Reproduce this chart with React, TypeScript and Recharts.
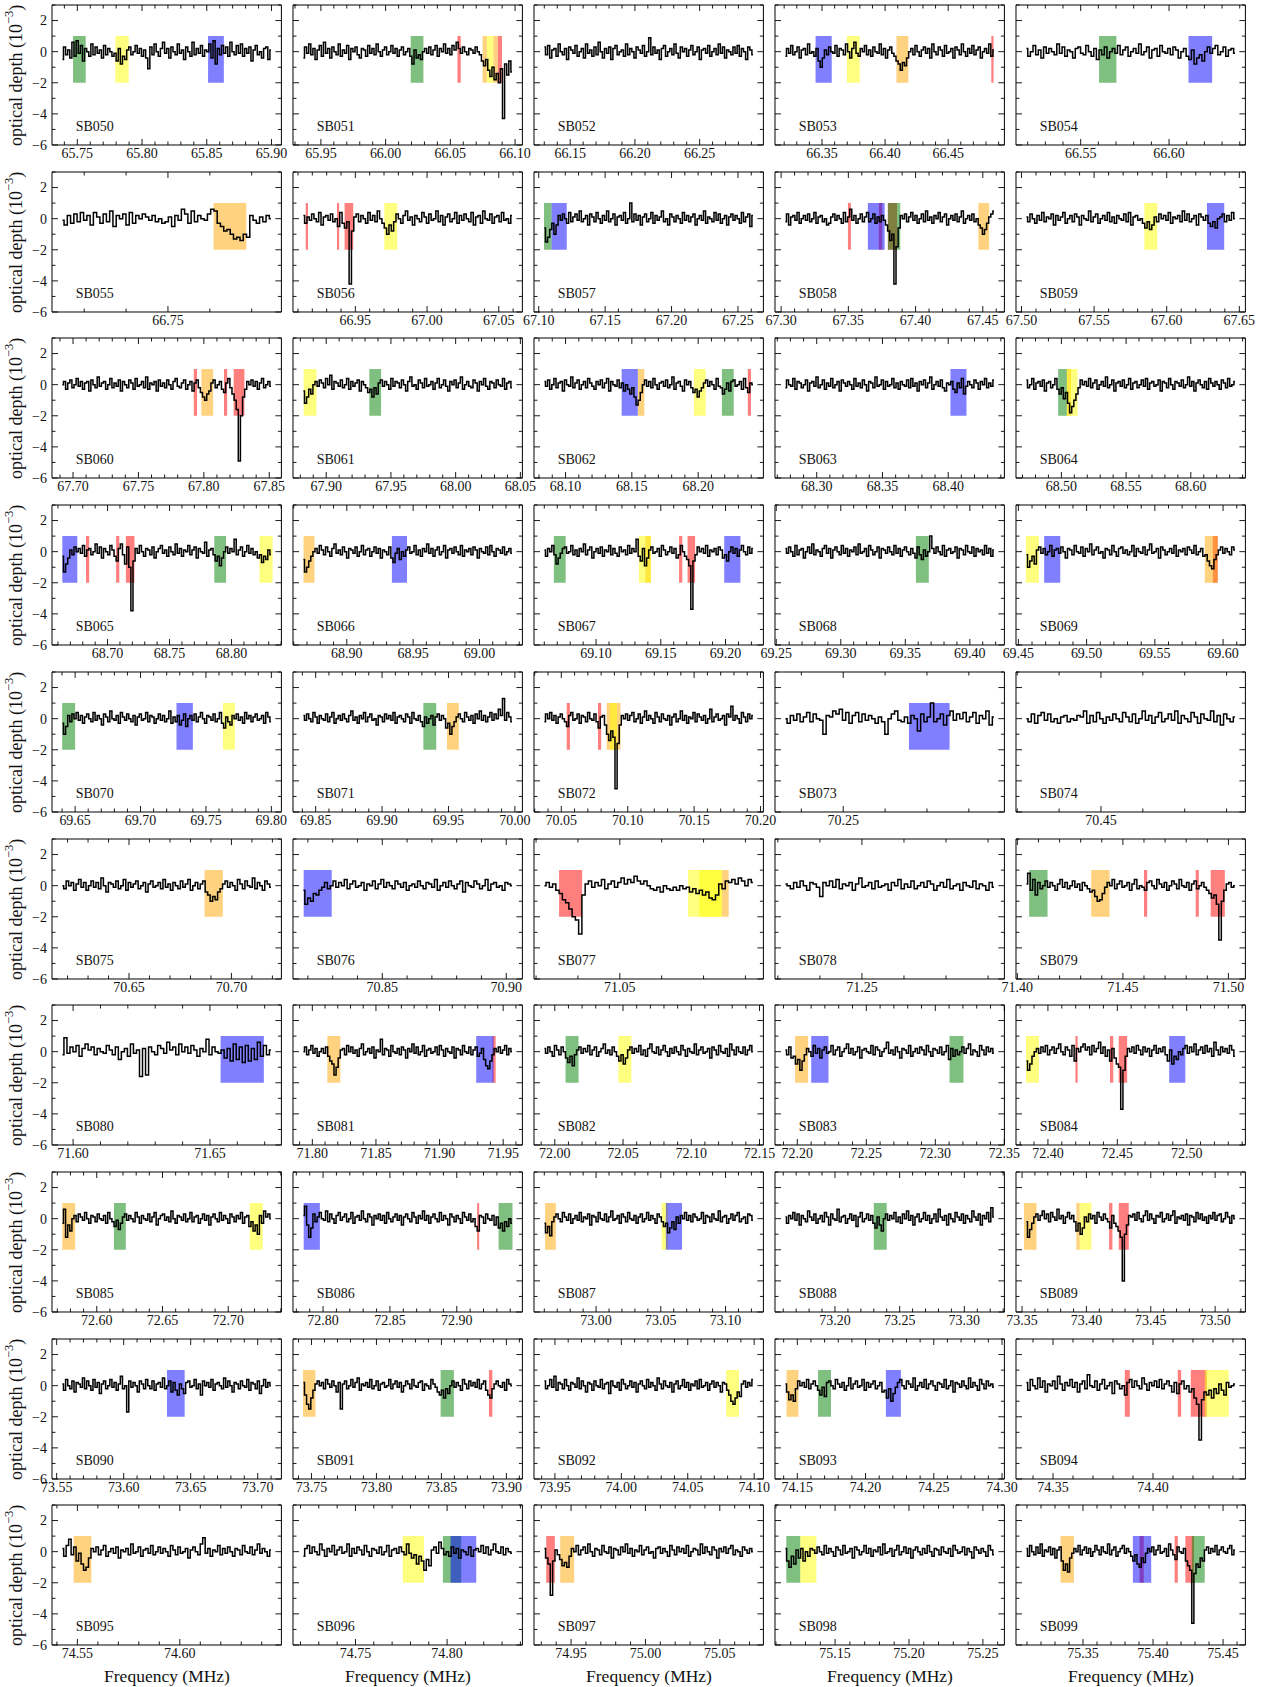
import React from 'react';
import { LineChart, Line, XAxis, YAxis, ReferenceArea } from 'recharts';

// spectra, values in units of 0.1 x 10^-3 optical depth, one value per (binned) channel
const SB050 = [-5,3,-2,1,-4,6,-3,7,-1,4,-6,2,0,-3,5,-2,3,-1,1,-4,4,-2,2,0,-3,-1,-6,2,-8,-3,-5,1,3,-2,0,4,-1,2,-3,1,-4,-11,3,-2,5,0,-3,2,6,-1,2,-4,3,0,-2,5,-1,1,-5,3,0,-3,6,-2,2,-1,4,-3,1,0,5,-4,7,-8,2,-2,4,-1,3,-3,6,0,-2,4,-1,5,-3,2,-1,3,-6,1,4,-2,0,-4,2,3,-5,1];
const SB051 = [-4,3,-1,5,-2,2,-5,1,4,-3,6,-1,2,-4,3,0,-2,5,-3,1,-1,4,-5,2,0,3,-2,-4,2,1,-3,4,-1,2,-2,5,0,-3,1,3,-2,0,4,-1,2,-3,1,3,-2,0,2,-3,-8,1,-4,-2,-5,0,2,-1,3,-2,1,4,-3,2,0,5,-1,2,-2,4,1,6,2,-1,3,0,-2,2,1,-1,3,0,-2,-6,-9,-5,-12,-16,-10,-18,-14,-20,-11,-43,-8,-15,-6,-13];
const SB052 = [3,-2,4,-4,1,2,-3,5,0,-2,2,-5,3,1,-1,4,-3,0,2,-4,5,-1,1,-3,3,-2,6,0,-4,2,-1,3,-5,2,4,-2,0,1,-3,5,-2,2,0,-4,3,1,-1,4,-3,0,9,-2,3,-1,1,-5,2,4,-3,0,2,-2,5,-1,-4,3,0,2,-3,1,4,-2,0,3,-5,1,2,-1,4,-3,0,2,-2,5,-1,3,-4,1,0,-2,3,-1,4,-3,2,0,-5,3,1,-2];
const SB053 = [-3,2,-1,4,-2,0,3,-4,1,2,-2,5,-1,0,-3,2,-6,-10,-4,1,-2,3,0,-1,4,-3,2,1,-2,5,0,-4,2,6,-1,-3,2,0,4,-2,1,-3,3,0,-1,5,-2,2,-4,1,3,-1,-3,-6,-8,-12,-7,-9,-4,0,2,-2,4,0,-3,1,3,-1,2,-4,5,0,-2,3,1,-3,4,-1,0,2,-4,3,1,-2,5,0,-3,2,-1,4,-2,1,3,-4,0,2,-1,5,-3,1];
const SB054 = [2,-3,0,4,-2,1,-4,3,-1,2,0,-2,5,-1,3,-3,1,0,-4,2,3,-1,-2,4,0,-3,2,-5,1,-2,3,-4,0,2,-1,4,-2,1,3,-3,0,2,-1,5,-2,0,3,-4,1,2,-3,4,0,-1,2,-2,3,1,-4,0,2,-3,-5,1,-8,-4,-2,-6,0,3,-1,2,4,-2,0,3,-3,1,2,-1];
const SB055 = [-1,-4,2,-3,3,-2,4,-1,2,-4,4,1,-3,3,-2,5,-5,2,0,3,-4,4,-3,2,0,3,1,-1,2,-2,0,-3,-2,1,-5,2,-1,6,3,-3,5,-2,2,0,-1,3,6,5,-3,-5,-8,-7,-10,-13,-12,-14,-10,-12,2,-1,-3,1,-2,2,0];
const SB056 = [2,-3,1,-1,3,0,-2,4,-4,1,2,-1,3,-2,0,-5,4,-3,-6,-2,-42,-8,1,3,-2,2,0,-3,4,-1,2,-2,5,0,-3,-6,-10,-4,-8,-2,3,0,-3,2,5,-1,1,-4,2,0,-2,4,1,-3,3,-1,0,5,-2,2,-4,1,3,-2,0,4,-3,2,-1,3,0,-2,4,-4,1,2,-3,5,0,-1,3,-3,1,2,-2,4,-1,0,-3,2];
const SB057 = [-6,-15,-12,-7,-3,-10,-4,2,-1,3,0,-3,4,-2,1,3,-1,5,-2,0,2,-4,3,1,-2,4,0,-3,2,-1,5,-2,0,3,-4,1,2,-1,4,-3,0,10,-2,3,-1,2,-4,1,3,-2,0,4,-3,2,-1,1,5,-2,0,-4,3,1,-2,2,0,-3,4,-1,2,-2,1,3,-4,0,2,-1,5,-3,1,0,-2,4,-1,3,-3,0,2,-4,1,3,-1,2,0,-3,4,-2,1,3,-5,2];
const SB058 = [-2,3,-4,1,2,-1,4,-3,0,2,-1,3,-2,0,4,-3,1,2,-2,0,-4,-3,1,3,-1,2,0,-3,4,-2,1,6,-1,2,-3,0,3,-2,1,4,-2,0,3,-3,1,-2,2,-1,-4,-8,-14,-10,-42,-18,-6,2,0,3,-2,1,4,-1,2,-3,0,3,-2,5,-1,1,-3,2,0,4,-2,1,3,-4,0,2,-1,3,-2,1,5,-3,0,2,-1,3,-2,0,-4,-6,-10,-7,-3,1,3,5];
const SB059 = [1,-2,3,0,-3,2,-1,4,-2,1,0,3,-4,2,-1,1,4,-3,0,2,-2,3,1,-4,2,0,-1,5,-2,1,3,-3,0,2,-1,4,-2,1,-3,2,0,-1,3,-2,4,-4,1,2,-1,0,-3,-6,-2,-7,-4,1,-2,3,0,2,-1,4,-3,1,0,2,-2,5,-1,3,-2,0,2,-4,3,1,-1,2,-3,-5,-2,-6,0,1,3,-2,2,-1,4,0];
const SB060 = [0,2,-3,1,3,-2,0,4,-1,2,-3,1,2,-4,3,0,-2,5,-1,1,2,-3,0,4,-2,1,-1,3,-4,2,0,-2,3,1,-3,4,-1,0,2,-2,5,-3,1,0,2,-4,3,-1,1,-2,3,0,-3,2,4,-1,-2,1,3,-3,0,2,-4,1,3,-2,-5,-8,-10,-6,-4,1,3,-2,0,2,-3,-5,1,4,-2,-6,-10,-16,-49,-20,-8,-3,2,0,3,-1,2,-3,1,4,-2,0,2,-1];
const SB061 = [-4,-12,-8,-3,-6,0,2,-1,3,1,-2,4,0,6,-3,2,1,-1,3,-2,0,4,-3,2,-1,1,3,-4,2,0,-2,-5,-3,-8,-2,-6,1,3,-1,2,0,-3,4,-1,2,1,-2,3,0,-4,2,5,-1,0,-3,3,1,-2,4,-1,0,2,-3,1,4,-2,0,3,-1,-4,2,0,3,-2,1,5,-3,0,2,-1,-2,3,1,-4,2,0,4,-1,-3,2,1,-2,3,0,-1,4,-3,1,2,-2];
const SB062 = [2,-1,3,-3,0,4,-2,1,2,-4,3,0,-1,5,-2,1,3,-3,0,2,-2,4,1,-1,-3,2,0,3,-2,1,4,-4,2,0,-1,3,-2,1,-4,0,-3,-6,-2,-8,-13,-10,-5,0,3,-1,2,-2,4,0,-3,1,2,-1,3,-2,0,5,-3,1,2,-1,-4,3,0,2,-2,-5,-3,-8,-4,-2,1,3,-1,2,0,-3,4,-1,-2,-6,-3,1,-4,2,3,-1,0,2,-3,4,-2,-5,1,0];
const SB063 = [-2,3,0,-1,4,-3,2,1,-2,0,3,-4,1,2,-1,5,-2,0,3,-3,1,-1,4,-2,0,2,-4,3,1,-1,2,0,-3,4,-1,1,-2,3,0,-4,2,1,-2,5,-1,0,3,-3,2,-1,0,4,-2,1,-3,2,0,-1,3,-2,4,-1,1,-4,2,0,3,-2,1,5,-3,0,2,-1,3,-2,-4,1,0,2,-3,-5,1,-2,4,-6,-1,2,0,-2,3,1,-3,2,0,4,-2,1,-1,3];
const SB064 = [3,-2,0,4,-3,1,2,-1,3,-4,1,2,-2,0,4,-3,-6,-2,-9,-5,-12,-18,-14,-10,-6,-2,3,0,2,-1,4,-2,1,3,-3,0,2,-1,5,-2,0,3,-4,1,2,-1,3,-2,0,4,-3,1,2,-2,0,3,-1,4,-3,1,2,-1,0,3,-4,2,1,-2,4,0,-3,2,1,-1,3,-2,0,5,-1,2,-4,1,3,0,-2,2,-3,4,1,-1,2,0,-3,3,1,-2,4,-1,0,2];
const SB065 = [-3,-13,-8,-4,1,-2,3,0,2,-1,4,-3,1,2,-2,0,5,-1,3,-4,2,0,-2,4,1,-3,-6,2,5,-2,-8,3,-10,-38,-6,2,-1,4,0,-3,2,1,-2,3,-4,0,2,4,-1,1,-3,3,0,-2,5,-1,2,-3,1,0,4,-2,1,3,-4,2,0,-1,6,-3,1,2,-2,-6,-3,-9,-4,0,3,-1,2,0,8,-2,1,3,-3,0,4,-1,2,-2,0,-4,-2,-7,-3,-5,1,-2];
const SB066 = [-5,-13,-10,-6,-3,0,2,-1,4,1,-2,3,0,-3,2,5,-1,1,-2,3,0,-4,2,1,-1,3,-3,0,4,-2,1,2,-3,0,3,-1,2,-4,1,0,-2,3,-4,-7,-1,2,-5,0,-3,1,3,-1,0,4,-2,1,-3,2,0,5,-1,2,-3,1,3,-2,0,4,-4,1,2,-1,3,0,-2,4,-3,1,0,2,-2,3,1,-4,2,0,-1,3,-2,4,0,-3,2,1,-1,3,-2,0,2,-1];
const SB067 = [1,-3,2,0,4,-2,-8,-4,-1,2,3,-1,0,4,-2,1,-3,2,0,5,-2,1,3,-4,0,2,-1,3,-3,1,0,4,-2,2,-1,-3,3,0,1,-2,4,-1,2,0,8,-3,-6,2,-9,-4,1,3,-1,0,2,-3,4,1,-2,0,3,-1,2,-4,-2,4,0,-3,-5,-9,-37,-6,-2,3,0,2,-1,4,-3,1,0,2,-2,3,1,-4,-2,-6,0,3,-1,2,-3,1,4,0,-2,3,-1,2];
const SB068 = [2,-1,3,0,-3,4,-2,1,2,-4,0,3,-1,5,-2,1,0,-3,2,4,-1,2,-4,1,3,0,-2,4,-1,2,-3,1,0,3,-2,5,-1,0,2,-3,4,1,-2,0,3,-4,2,1,-1,3,0,-2,4,-1,2,-3,1,3,0,-2,2,-1,-4,3,-2,-5,1,-3,0,10,2,-1,3,0,-2,4,-3,1,2,-1,0,3,-4,2,1,-2,4,0,-1,3,-3,2,0,1,-2,4,-1,2,-3,1];
const SB069 = [-2,-10,-6,-3,-8,1,3,-1,2,-2,0,4,-3,1,2,-1,3,0,-4,2,1,-2,4,0,-1,3,-3,2,0,5,-2,1,3,-1,0,-4,2,1,-2,4,0,-3,2,3,-1,1,-2,0,4,-3,2,0,-1,3,-2,1,5,-1,0,2,-4,3,1,-2,0,2,-1,4,-3,1,0,2,-2,3,1,-1,4,-2,0,2,-3,-2,-6,-9,-11,-5,-2,1,3,-1,2,0,-2,3,1];
const SB070 = [-3,-10,-5,2,-2,3,0,4,-1,2,-3,1,3,0,-2,4,-1,2,0,-4,3,1,-2,5,0,-1,2,-3,4,1,-1,3,0,-2,2,-4,1,3,-1,0,4,-2,2,1,-3,0,3,-1,2,-2,0,5,-3,1,-2,2,-4,-1,3,-5,0,2,-1,3,-2,1,4,0,-3,2,1,-1,3,-2,0,4,-3,-6,1,-2,-4,2,0,3,-1,1,-3,4,0,2,-2,1,3,-1,0,2,-3,4,1,-2];
const SB071 = [2,-1,3,0,-2,4,1,-3,2,0,-1,3,-2,1,4,-3,0,2,-1,3,0,-2,2,5,-1,1,-3,2,0,4,-2,1,3,-1,0,-4,2,1,-2,3,0,2,-1,4,-3,1,2,0,-2,3,1,-3,4,0,-1,2,-2,-5,1,-3,0,2,-4,1,3,-1,2,0,-6,-3,-10,-5,-2,1,3,0,-2,4,1,-1,2,-3,3,0,5,-1,2,-2,1,4,-1,3,0,6,2,13,-1,4,1,-2];
const SB072 = [-2,3,0,4,-1,2,-3,1,3,0,-2,-5,2,4,-1,0,3,-3,2,1,-2,4,0,-1,3,-2,-6,1,2,-4,-10,-14,-8,-12,-45,-16,-4,2,0,3,-1,2,4,-2,0,3,-3,1,5,-1,2,0,-3,4,1,-2,3,0,-1,2,-4,1,3,-2,0,5,-1,2,-3,1,0,4,-2,3,1,-1,2,-3,0,6,-2,1,3,-1,0,2,-4,3,1,8,-1,2,0,-3,4,1,-2,3,0,2];
const SB073 = [0,-3,2,-1,3,-2,1,4,-2,3,0,-1,-10,2,1,5,3,6,-1,4,-3,2,4,-2,3,-1,2,0,-3,1,-2,-10,0,3,5,-1,-2,1,-3,2,0,-8,3,-2,1,10,-2,0,3,-4,2,5,-1,3,0,4,-2,1,4,-3,2,0,5,-4,1];
const SB074 = [0,-2,3,-3,2,4,-1,3,-2,0,-3,1,2,-2,0,-1,2,1,5,-3,2,-2,4,0,-3,1,-1,3,0,-2,4,1,-2,3,-3,0,5,-1,2,-3,1,4,-2,0,3,-1,5,-3,2,0,-2,4,1,-3,3,0,-1,5,-2,2,-4,3,0,-2,1];
const SB075 = [0,-2,3,0,2,-3,1,4,-1,2,-3,0,3,-1,2,-2,5,0,-4,2,1,-1,3,-2,0,4,-3,2,-1,1,3,-2,0,2,-4,1,3,-1,0,2,-2,4,-1,1,-3,2,0,-2,3,-1,1,4,-3,0,2,-2,1,3,-4,-6,-10,-7,-9,-4,-2,1,3,-1,2,0,-3,4,1,-2,3,0,-1,5,-2,2,0,-3,3,1,-1];
const SB076 = [-3,-12,-8,-10,-5,-6,-3,-1,2,-2,0,3,-1,2,0,4,-2,1,3,-1,0,2,-3,1,0,3,-2,1,4,-1,2,0,-2,3,1,-1,2,-3,0,1,-1,3,0,-2,2,1,-1,4,-3,0,2,-1,3,0,-2,1,3,-4,2,0,-1,3,1,-2,0,4,-3,1,2,-1,0,-3,2,1,0];
const SB077 = [0,2,-1,1,-3,-5,-9,-11,-15,-20,-22,-31,-6,1,3,-1,2,0,4,-2,1,3,-1,2,5,1,4,2,6,3,1,3,0,-2,-3,-1,-4,0,-2,-3,-1,-3,0,-2,-1,-4,-2,-5,-3,-6,-4,-8,-9,-6,1,-2,3,2,4,1,5,3,0,4,2];
const SB078 = [1,0,-2,2,-1,3,0,-3,2,1,-1,-7,2,0,3,-1,4,-2,1,0,2,-3,1,5,-1,0,2,-2,3,-1,0,1,-3,2,0,4,-2,1,-1,3,-2,0,2,-1,3,1,-3,0,2,-1,4,-2,0,1,-3,2,0,-1,3,-2,1,0,-3,2,-1];
const SB079 = [1,8,-3,4,-6,2,-2,0,3,-1,2,0,-3,1,4,-1,2,-2,0,3,-1,1,-3,2,0,-2,-4,-3,-7,-10,-9,-5,-1,2,0,4,-2,1,3,-1,0,2,-3,1,4,-2,0,-1,-3,2,3,0,-2,4,1,-1,2,-3,0,3,1,-2,4,0,-1,2,-3,1,3,-2,0,2,-1,-3,-5,-8,-6,-12,-35,-10,-3,1,2,-1,0];
const SB080 = [-2,9,-1,3,0,4,-3,2,5,1,3,-2,2,0,-1,4,1,-2,3,-5,0,2,-3,5,-1,1,-16,2,-15,3,0,-2,4,2,-1,6,1,3,-2,5,0,3,-1,4,1,-3,2,0,8,-2,3,0,-1,1,-4,2,-6,5,-5,3,-7,4,-6,2,-5,6,-3,4,-2,1];
const SB081 = [0,3,-2,1,4,-1,2,-3,0,2,-1,3,-3,-6,-8,-15,-10,-4,1,2,-2,4,0,3,-1,1,-3,2,5,-2,0,2,-1,3,-4,1,0,8,-2,2,1,-3,4,0,-1,2,-2,3,1,-4,2,0,5,-1,3,-2,0,4,-3,1,2,-1,0,3,-2,4,1,-3,2,0,-1,3,-4,2,1,-2,4,0,-1,3,-2,1,3,-3,-1,2,-5,-9,-11,-6,-2,2,0,3,-1,1,4,-2,2,0];
const SB082 = [2,-1,3,0,-3,4,1,-2,3,0,-4,-7,-3,-9,-2,1,3,-1,2,0,4,-2,1,3,-3,0,2,5,-1,1,-2,3,0,-3,-6,-2,-8,-4,1,3,-1,2,0,4,-2,1,-3,2,5,0,-1,3,-2,1,4,0,-3,2,-1,3,0,-2,4,1,-3,2,0,-1,5,-2,1,3,-1,0,2,-4,3,1,-2,4,0,-1,2,-3,5,1,-2,3,0,-1,3,-2,1,4,0];
const SB083 = [1,-2,3,-4,-3,-8,-5,-12,-6,-2,2,0,-3,4,-1,2,-4,1,3,-1,0,4,-2,1,3,-3,0,2,5,-1,2,-2,0,3,-4,1,2,0,-1,4,-2,3,1,-3,0,2,6,-1,1,-2,3,0,-4,2,1,-1,4,-3,0,2,-1,3,1,-2,4,0,-3,2,1,-1,3,-2,0,4,-5,2,-3,1,-2,0,3,-1,2,5,-2,1,0,-3,4,1,-2,3,0,2,-1];
const SB084 = [-6,-12,-8,-3,0,2,-1,3,0,4,-2,1,3,-1,2,5,0,-2,3,1,-3,4,-6,2,0,3,5,1,3,-2,4,0,2,6,-1,3,-3,1,-6,2,-4,-8,-10,-37,-12,-3,2,0,3,-1,4,1,-2,3,0,2,-3,1,4,-1,2,0,3,-2,-6,1,-8,-3,-5,0,-2,2,4,-1,3,0,5,-2,1,3,-1,4,0,2,-3,6,1,-2,3,0,2,-1,4,1,-3];
const SB085 = [-3,6,-12,-4,-8,0,2,-2,3,1,-1,4,0,-3,2,1,-2,3,0,-1,2,-3,4,0,-2,-5,-1,-7,-3,1,3,-1,2,0,-2,4,1,-3,2,0,-1,3,-2,1,4,-4,0,2,3,-1,1,-2,5,0,-3,2,1,-1,3,-2,0,4,-2,1,2,-3,0,3,-1,2,-4,1,3,0,-2,4,-1,2,0,-3,3,1,-2,2,0,4,-3,1,2,-5,-2,-8,-4,-10,2,-3,5,1,3,0];
const SB086 = [2,8,-4,-12,-6,3,-2,1,4,0,-1,5,-2,3,0,-3,2,4,-1,1,3,-2,0,4,-3,1,2,-1,5,0,-2,3,1,-4,2,0,3,-1,2,-3,4,0,-2,1,3,-1,2,-4,1,3,0,-2,4,1,-3,2,0,5,-1,2,-3,1,3,0,-2,4,-1,2,0,-4,3,1,-2,2,0,-3,4,1,-1,3,-2,0,-5,-8,2,1,-3,3,0,-1,2,-4,1,-6,-3,-8,-2,-5,0,-3];
const SB087 = [-3,-9,-5,-11,-2,1,3,0,-2,4,1,-1,3,-3,0,2,-1,4,-2,1,0,3,-4,2,1,-2,4,0,-1,3,-2,1,5,-1,0,2,-3,3,1,-2,4,0,-1,2,-3,1,3,-2,0,4,-1,2,0,-3,3,1,-2,-5,-3,-9,-6,-2,-7,1,-3,2,0,4,-1,2,-2,3,1,-1,0,4,-3,2,1,-2,3,0,-1,5,-2,1,2,-3,0,3,-1,2,4,-2,0,1,-3,3,2,-1];
const SB088 = [1,-3,2,0,4,-1,3,-4,2,0,-2,5,1,-1,3,-3,0,2,-2,4,1,-4,3,0,-1,6,-2,1,2,-3,0,3,-1,2,-5,1,4,-2,0,3,-1,2,-3,-6,1,-4,-8,0,3,-1,2,0,4,-2,1,-3,3,0,5,-1,2,-4,1,3,-2,0,4,-1,2,-3,0,3,-2,6,1,-1,2,-4,3,0,-2,4,1,-1,3,-3,2,0,-2,5,1,-1,3,-4,2,0,4,-2,7,1];
const SB089 = [-2,-12,-7,-3,1,3,-1,2,5,0,3,-2,4,1,-1,6,0,2,-3,1,4,0,2,-2,-8,-3,-10,-6,1,-2,3,0,2,-3,4,1,-1,3,0,-2,-6,2,-3,-5,-8,-12,-40,-10,-4,2,1,3,-1,4,0,-2,2,5,-1,3,0,-3,2,1,4,-2,0,3,-1,2,5,-3,1,0,2,-1,3,-4,2,1,-2,4,0,3,-1,1,-3,2,0,4,-1,2,3,-2,0,4,1,-3,2,0];
const SB090 = [1,-3,4,0,-2,3,-4,2,1,-1,5,-2,3,0,-3,4,-1,2,-5,1,3,-2,0,4,-1,2,-3,1,6,-2,0,-17,3,-1,2,0,-4,3,1,-2,4,0,-2,3,-3,1,2,-1,5,-2,0,3,-4,2,-3,-6,1,-2,-5,2,3,-1,0,4,-2,1,-6,3,0,2,-1,4,-3,1,2,0,-2,5,-1,3,0,-4,2,1,-2,3,0,-1,4,-3,2,1,-2,3,-5,0,4,-1,2,0];
const SB091 = [2,-6,-12,-15,-8,-3,1,3,0,2,-2,4,1,-1,3,0,-4,2,-15,1,3,-2,0,4,-1,2,5,-3,1,0,2,-1,4,-2,0,3,-3,1,2,-1,0,4,-2,1,3,-1,2,-4,0,3,1,-2,4,0,-1,2,3,-3,1,0,-2,4,1,-1,-4,-6,-3,-8,-2,-5,0,3,-1,2,0,-3,4,1,-2,3,0,2,-1,4,-2,1,3,-3,-6,-8,-2,1,3,0,-1,2,-3,4,1,0];
const SB092 = [3,-2,0,4,-1,6,-3,2,1,-2,4,0,-3,2,1,-1,5,-2,3,0,-4,2,1,-3,3,0,-1,4,-2,1,2,-5,3,0,-1,2,-3,4,1,-2,0,3,-1,2,-4,1,3,0,-2,4,-1,2,0,-3,5,1,-2,3,0,-1,2,-4,1,3,-2,0,4,-1,2,-3,1,0,3,-2,4,-1,0,2,-3,1,3,-1,2,0,-4,2,1,-3,-6,-10,-12,-8,-4,-7,1,3,-1,2,0,4];
const SB093 = [1,-4,-9,-6,-10,-2,3,0,2,-1,4,-2,1,3,0,-3,-6,-1,-7,2,3,0,-2,4,1,-1,2,-3,0,5,-2,1,3,-1,0,4,-3,2,-1,1,3,-2,0,2,-4,-3,-8,-2,-10,-5,-1,2,4,0,-2,3,1,-1,5,-3,0,2,-1,4,-2,1,3,0,-3,2,1,-1,4,-2,0,3,-4,2,1,-1,3,0,-2,5,-1,2,0,-3,4,1,-2,3,0,1,-1];
const SB094 = [2,-3,4,0,-2,5,-1,3,-4,1,0,3,-2,6,1,-3,2,0,4,-1,2,-4,1,3,-2,7,0,-1,3,-3,1,4,-2,0,2,-5,3,1,-2,0,-6,2,4,-1,3,0,-2,5,1,-3,2,0,3,-1,4,-2,1,3,0,-4,2,-5,1,3,-2,0,-4,-2,-8,-12,-35,-9,-4,-6,-3,-8,-2,-5,1,-3,-6,2,-1,0,1];
const SB095 = [2,-3,4,8,-2,3,-6,-1,-8,-12,-10,-4,2,0,3,-2,1,4,-3,0,2,-1,3,-4,1,0,2,-2,5,-1,0,3,-3,1,2,-1,4,-2,0,3,-1,2,0,-3,4,1,-2,3,-1,0,2,-4,1,3,0,-2,5,9,-1,2,-3,1,0,4,-2,2,-1,3,0,-3,2,1,-2,4,0,-1,3,-2,1,5,-1,2,0,-3,1];
const SB096 = [-3,2,4,-1,3,0,-2,5,1,-3,2,0,4,-2,1,3,-1,0,5,-3,2,-1,3,1,-2,4,0,-3,2,1,-1,3,-2,0,4,-3,1,2,-1,3,0,-2,5,-1,-4,-2,-8,-3,-6,-12,-5,-9,1,3,-1,6,2,-2,0,-3,3,-1,2,-4,1,0,-2,3,-3,1,2,0,4,-1,3,-2,1,5,0,-1,3,-2,2,0,-1];
const SB097 = [2,-4,-8,-28,-6,1,-2,-5,-9,-7,-10,-3,2,0,4,-2,1,3,-1,5,0,-3,2,1,-2,4,0,-1,3,-4,2,1,-2,3,0,5,-1,2,-3,1,0,4,-2,1,3,-1,0,-4,2,3,-1,2,0,-3,4,1,-2,3,0,2,-1,4,-3,0,2,1,-2,5,-1,3,0,-2,3,1,-4,2,0,3,-1,2,4,-2,1,0,-3,3,1,-1,2,0];
const SB098 = [2,-6,-10,-3,-8,1,-4,2,-6,0,-3,2,1,-1,3,0,-2,4,-1,2,0,-3,3,1,-2,4,-1,0,2,-4,3,1,-2,0,4,-1,2,-3,1,0,3,-2,5,-1,0,2,-3,1,4,-2,0,3,-1,2,-4,1,3,0,-2,2,-1,4,0,-3,2,1,-2,3,0,-1,2,-3,4,1,-1,0,3,-2,2,0,-4,3,1,-1,2,0,-3,4,1,-2];
const SB099 = [2,-3,4,0,-2,3,-1,5,-3,1,0,3,-2,2,-4,1,3,-6,-12,-8,-13,-4,-1,2,0,4,-2,1,3,-1,2,-3,0,4,1,-2,3,0,-1,5,-2,1,3,-3,0,2,4,-1,2,0,-3,-6,-2,-8,-10,-4,-7,-1,2,0,3,-2,1,4,-1,0,2,-3,5,1,-2,-5,3,0,-1,2,-6,-9,-12,-46,-14,-8,-10,-4,-6,1,3,-1,2,0,4,-2,1,3,0,-1,2,4,-2,1];

// flagged line windows [start MHz, end MHz, colour]
const BOX050 = [[65.7467, 65.7565, 'g'], [65.7794, 65.7897, 'y'], [65.851, 65.8632, 'b']];
const BOX051 = [[66.0194, 66.0292, 'g'], [66.0555, 66.058, 'r'], [66.0749, 66.0782, 'o'], [66.0782, 66.0832, 'y'], [66.0832, 66.0866, 'o'], [66.0866, 66.0899, 'r']];
const BOX052 = [];
const BOX053 = [[66.3449, 66.3577, 'b'], [66.3697, 66.3799, 'y'], [66.409, 66.4184, 'o'], [66.4842, 66.486, 'r']];
const BOX054 = [[66.5604, 66.5702, 'g'], [66.611, 66.6244, 'b']];
const BOX055 = [[66.7609, 66.7687, 'o']];
const BOX056 = [[66.9154, 66.917, 'r'], [66.9372, 66.9387, 'r'], [66.9425, 66.9485, 'r'], [66.9702, 66.9792, 'y']];
const BOX057 = [[67.104, 67.1097, 'g'], [67.1097, 67.1211, 'b']];
const BOX058 = [[67.3497, 67.3519, 'r'], [67.3645, 67.377, 'b'], [67.3727, 67.3752, 'r'], [67.3794, 67.3862, 'r'], [67.3794, 67.3886, 'g'], [67.4467, 67.4547, 'o']];
const BOX059 = [[67.5846, 67.5935, 'y'], [67.6277, 67.6396, 'b']];
const BOX060 = [[67.7923, 67.7948, 'r'], [67.7981, 67.8071, 'o'], [67.8154, 67.8178, 'r'], [67.8228, 67.831, 'r']];
const BOX061 = [[67.8826, 67.8925, 'y'], [67.9333, 67.9424, 'g']];
const BOX062 = [[68.1423, 68.1545, 'b'], [68.1545, 68.1594, 'o'], [68.1968, 68.2057, 'y'], [68.2179, 68.2268, 'g'], [68.2374, 68.2398, 'r']];
const BOX063 = [[68.4017, 68.4139, 'b']];
const BOX064 = [[68.4975, 68.5042, 'g'], [68.5042, 68.5075, 'o'], [68.5042, 68.5125, 'y']];
const BOX065 = [[68.6635, 68.6756, 'b'], [68.6826, 68.6852, 'r'], [68.7069, 68.7095, 'r'], [68.7148, 68.7217, 'r'], [68.7861, 68.7956, 'g'], [68.8226, 68.8331, 'y']];
const BOX066 = [[68.8674, 68.8756, 'o'], [68.934, 68.9454, 'b']];
const BOX067 = [[69.0674, 69.0765, 'g'], [69.1331, 69.1423, 'y'], [69.1381, 69.1423, 'o'], [69.1641, 69.1666, 'r'], [69.1707, 69.1765, 'r'], [69.199, 69.2115, 'b']];
const BOX068 = [[69.3582, 69.3682, 'g']];
const BOX069 = [[69.4555, 69.465, 'y'], [69.4689, 69.4807, 'b'], [69.5866, 69.5961, 'o'], [69.5925, 69.5961, 'r']];
const BOX070 = [[69.6401, 69.65, 'g'], [69.7275, 69.74, 'b'], [69.763, 69.7721, 'y']];
const BOX071 = [[69.9311, 69.9408, 'g'], [69.9489, 69.9578, 'o']];
const BOX072 = [[70.0541, 70.0565, 'r'], [70.0776, 70.08, 'r'], [70.0841, 70.0946, 'o'], [70.0865, 70.092, 'y']];
const BOX073 = [[70.2657, 70.2754, 'b']];
const BOX074 = [];
const BOX075 = [[70.6869, 70.6958, 'o']];
const BOX076 = [[70.8183, 70.8296, 'b']];
const BOX077 = [[71.0355, 71.041, 'r'], [71.0663, 71.0743, 'y'], [71.069, 71.0743, 'y'], [71.0743, 71.076, 'o']];
const BOX078 = [];
const BOX079 = [[71.4056, 71.4143, 'g'], [71.435, 71.4437, 'o'], [71.46, 71.4615, 'r'], [71.4845, 71.486, 'r'], [71.4916, 71.4983, 'r']];
const BOX080 = [[71.6539, 71.6697, 'b']];
const BOX081 = [[71.8118, 71.822, 'o'], [71.9288, 71.9424, 'b'], [71.9416, 71.9441, 'r']];
const BOX082 = [[72.0079, 72.0174, 'g'], [72.0466, 72.0561, 'y']];
const BOX083 = [[72.1984, 72.2078, 'o'], [72.2101, 72.2226, 'b'], [72.3103, 72.3204, 'g']];
const BOX084 = [[72.3842, 72.3935, 'y'], [72.4198, 72.4214, 'r'], [72.4447, 72.4471, 'r'], [72.451, 72.4571, 'r'], [72.4874, 72.499, 'b']];
const BOX085 = [[72.5738, 72.5836, 'o'], [72.6131, 72.6221, 'g'], [72.7164, 72.7262, 'y']];
const BOX086 = [[72.7855, 72.7976, 'b'], [72.9152, 72.9168, 'r'], [72.9313, 72.9417, 'g']];
const BOX087 = [[72.9606, 72.9689, 'o'], [73.0506, 73.0556, 'y'], [73.0539, 73.0664, 'b']];
const BOX088 = [[73.23, 73.24, 'g']];
const BOX089 = [[73.3515, 73.3612, 'o'], [73.3922, 73.3948, 'o'], [73.3948, 73.4039, 'y'], [73.4176, 73.4202, 'r'], [73.4251, 73.4329, 'r']];
const BOX090 = [[73.6323, 73.6455, 'b']];
const BOX091 = [[73.7435, 73.753, 'o'], [73.8494, 73.8596, 'g'], [73.8866, 73.8892, 'r']];
const BOX092 = [[74.0789, 74.0886, 'y']];
const BOX093 = [[74.1421, 74.1508, 'o'], [74.1652, 74.1747, 'g'], [74.2149, 74.2259, 'b']];
const BOX094 = [[74.3859, 74.3884, 'r'], [74.4124, 74.4141, 'r'], [74.4189, 74.4269, 'r'], [74.4259, 74.4379, 'y']];
const BOX095 = [[74.5482, 74.5568, 'o']];
const BOX096 = [[74.7758, 74.7874, 'y'], [74.7977, 74.8077, 'g'], [74.8019, 74.8159, 'b']];
const BOX097 = [[74.9333, 74.9391, 'r'], [74.9427, 74.9521, 'o']];
const BOX098 = [[75.117, 75.1264, 'g'], [75.1264, 75.1373, 'y']];
const BOX099 = [[75.334, 75.3435, 'o'], [75.3856, 75.3987, 'b'], [75.3904, 75.3934, 'r'], [75.4154, 75.4177, 'r'], [75.4231, 75.4292, 'r'], [75.4277, 75.4369, 'g']];

// first and last channel frequency of each subband (MHz)
const PANELS = [
  { name: 'SB050', range: [65.7385, 65.8996], values: SB050, boxes: BOX050 },
  { name: 'SB051', range: [65.9365, 66.0976], values: SB051, boxes: BOX051 },
  { name: 'SB052', range: [66.1301, 66.2912], values: SB052, boxes: BOX052 },
  { name: 'SB053', range: [66.321, 66.4863], values: SB053, boxes: BOX053 },
  { name: 'SB054', range: [66.5193, 66.6373], values: SB054, boxes: BOX054 },
  { name: 'SB055', range: [66.7248, 66.7746], values: SB055, boxes: BOX055 },
  { name: 'SB056', range: [66.9138, 67.0592], values: SB056, boxes: BOX056 },
  { name: 'SB057', range: [67.1043, 67.2613], values: SB057, boxes: BOX057 },
  { name: 'SB058', range: [67.3032, 67.4583], values: SB058, boxes: BOX058 },
  { name: 'SB059', range: [67.5034, 67.647], values: SB059, boxes: BOX059 },
  { name: 'SB060', range: [67.6919, 67.8513], values: SB060, boxes: BOX060 },
  { name: 'SB061', range: [67.8824, 68.0435], values: SB061, boxes: BOX061 },
  { name: 'SB062', range: [68.0841, 68.2413], values: SB062, boxes: BOX062 },
  { name: 'SB063', range: [68.2762, 68.4348], values: SB063, boxes: BOX063 },
  { name: 'SB064', range: [68.473, 68.6341], values: SB064, boxes: BOX064 },
  { name: 'SB065', range: [68.6636, 68.8318], values: SB065, boxes: BOX065 },
  { name: 'SB066', range: [68.8673, 69.0245], values: SB066, boxes: BOX066 },
  { name: 'SB067', range: [69.0601, 69.2212], values: SB067, boxes: BOX067 },
  { name: 'SB068', range: [69.2571, 69.4187], values: SB068, boxes: BOX068 },
  { name: 'SB069', range: [69.4559, 69.6087], values: SB069, boxes: BOX069 },
  { name: 'SB070', range: [69.6403, 69.7997], values: SB070, boxes: BOX070 },
  { name: 'SB071', range: [69.8408, 69.9978], values: SB071, boxes: BOX071 },
  { name: 'SB072', range: [70.0373, 70.1943], values: SB072, boxes: BOX072 },
  { name: 'SB073', range: [70.2362, 70.286], values: SB073, boxes: BOX073 },
  { name: 'SB074', range: [70.4322, 70.482], values: SB074, boxes: BOX074 },
  { name: 'SB075', range: [70.6175, 70.7193], values: SB075, boxes: BOX075 },
  { name: 'SB076', range: [70.8182, 70.9023], values: SB076, boxes: BOX076 },
  { name: 'SB077', range: [71.032, 71.0818], values: SB077, boxes: BOX077 },
  { name: 'SB078', range: [71.2318, 71.2814], values: SB078, boxes: BOX078 },
  { name: 'SB079', range: [71.4043, 71.5031], values: SB079, boxes: BOX079 },
  { name: 'SB080', range: [71.5961, 71.6723], values: SB080, boxes: BOX080 },
  { name: 'SB081', range: [71.793, 71.9569], values: SB081, boxes: BOX081 },
  { name: 'SB082', range: [71.9924, 72.1452], values: SB082, boxes: BOX082 },
  { name: 'SB083', range: [72.1914, 72.3425], values: SB083, boxes: BOX083 },
  { name: 'SB084', range: [72.3845, 72.5348], values: SB084, boxes: BOX084 },
  { name: 'SB085', range: [72.5739, 72.7325], values: SB085, boxes: BOX085 },
  { name: 'SB086', range: [72.7853, 72.9413], values: SB086, boxes: BOX086 },
  { name: 'SB087', range: [72.9601, 73.1212], values: SB087, boxes: BOX087 },
  { name: 'SB088', range: [73.1617, 73.3229], values: SB088, boxes: BOX088 },
  { name: 'SB089', range: [73.3534, 73.5154], values: SB089, boxes: BOX089 },
  { name: 'SB090', range: [73.5543, 73.7099], values: SB090, boxes: BOX090 },
  { name: 'SB091', range: [73.7438, 73.9043], values: SB091, boxes: BOX091 },
  { name: 'SB092', range: [73.9421, 74.0991], values: SB092, boxes: BOX092 },
  { name: 'SB093', range: [74.1413, 74.2941], values: SB093, boxes: BOX093 },
  { name: 'SB094', range: [74.3367, 74.441], values: SB094, boxes: BOX094 },
  { name: 'SB095', range: [74.5427, 74.6445], values: SB095, boxes: BOX095 },
  { name: 'SB096', range: [74.7216, 74.8354], values: SB096, boxes: BOX096 },
  { name: 'SB097', range: [74.9321, 75.0723], values: SB097, boxes: BOX097 },
  { name: 'SB098', range: [75.1164, 75.2575], values: SB098, boxes: BOX098 },
  { name: 'SB099', range: [75.3096, 75.4585], values: SB099, boxes: BOX099 },
];

const Y_TICKS = [-6, -5, -4, -3, -2, -1, 0, 1, 2, 3];
const COLORS = { r: '#ff0000', o: '#ffa500', y: '#ffff00', g: '#008000', b: '#0000ff' };
const ORDER = ['r', 'o', 'y', 'g', 'b'];
const FONT = '"Liberation Serif", "DejaVu Serif", serif';

// page geometry
const PW = 229.4;
const PH = 140;
const COL0 = 52.3;
const COLSTEP = 241;
const ROW0 = 5;
const ROWSTEP = 166.7;
const YL = 50;
const YT = 4;
const XB = 30;
const XR = 24;

const XTick = ({ x, payload, top, bottom }: any) => {
  const v = payload.value;
  const major = Math.round(v * 100) % 5 === 0;
  const len = major ? 6 : 3.5;
  return (
    <g>
      <line x1={x} x2={x} y1={bottom} y2={bottom - len} stroke="#000" strokeWidth={0.9} />
      <line x1={x} x2={x} y1={top} y2={top + len} stroke="#000" strokeWidth={0.9} />
      {major && (
        <text x={x} y={bottom + 13.5} textAnchor="middle" fontSize={14} fontFamily={FONT} fill="#111">
          {v.toFixed(2)}
        </text>
      )}
    </g>
  );
};

const YTick = ({ y, payload, left, right, showLabel, name }: any) => {
  const v = payload.value;
  const major = v % 2 === 0;
  const len = major ? 6 : 3.5;
  return (
    <g>
      <line x1={left} x2={left + len} y1={y} y2={y} stroke="#000" strokeWidth={0.9} />
      <line x1={right} x2={right - len} y1={y} y2={y} stroke="#000" strokeWidth={0.9} />
      {showLabel && major && (
        <text x={left - 5} y={y} dy="0.35em" textAnchor="end" fontSize={14} fontFamily={FONT} fill="#111">
          {v < 0 ? '\u2212' + Math.abs(v) : String(v)}
        </text>
      )}
      {v === -5 && (
        <text x={left + 23.7} y={y + 2} fontSize={14} fontFamily={FONT} fill="#111">
          {name}
        </text>
      )}
    </g>
  );
};

function Panel({ p, row, col }: any) {
  const [d0, d1] = p.range;
  const span = d1 - d0;
  const x0 = d0 - 0.05 * span;
  const x1 = d1 + 0.05 * span;
  const n = p.values.length;
  const data = p.values.map((v: number, i: number) => ({ f: d0 + (i * span) / (n - 1), v: v / 10 }));
  const xticks: number[] = [];
  for (let t = Math.ceil(x0 * 100 - 1e-9); t <= Math.floor(x1 * 100 + 1e-9); t++) xticks.push(t / 100);
  const boxes = [...p.boxes].sort((a, b) => ORDER.indexOf(a[2]) - ORDER.indexOf(b[2]));
  const top = YT;
  const bottom = YT + PH;
  const left = YL;
  const right = YL + PW;

  return (
    <div style={{ position: 'absolute', left: COL0 + col * COLSTEP - YL, top: ROW0 + row * ROWSTEP - YT }}>
      <LineChart width={YL + PW + XR} height={YT + PH + XB} data={data} margin={{ top: YT, right: XR, bottom: 0, left: 0 }}>
        <XAxis
          dataKey="f"
          type="number"
          domain={[x0, x1]}
          allowDataOverflow
          ticks={xticks}
          interval={0}
          height={XB}
          axisLine={false}
          tickLine={false}
          tick={(props: any) => <XTick {...props} top={top} bottom={bottom} />}
        />
        <YAxis
          type="number"
          domain={[-6, 3]}
          allowDataOverflow
          ticks={Y_TICKS}
          interval={0}
          width={YL}
          axisLine={false}
          tickLine={false}
          tick={(props: any) => <YTick {...props} left={left} right={right} showLabel={col === 0} name={p.name} />}
        />
        {boxes.map((b: any, i: number) => (
          <ReferenceArea
            key={i}
            x1={b[0]}
            x2={b[1]}
            y1={-2}
            y2={1}
            fill={COLORS[b[2] as keyof typeof COLORS]}
            fillOpacity={0.5}
            stroke="none"
            ifOverflow="hidden"
          />
        ))}
        <Line type="step" dataKey="v" stroke="#000" strokeWidth={1.5} dot={false} isAnimationActive={false} />
        <ReferenceArea x1={x0} x2={x1} y1={-6} y2={3} fill="none" stroke="#000" strokeWidth={1} ifOverflow="visible" />
      </LineChart>
    </div>
  );
}

export default function App() {
  const rows = [0, 1, 2, 3, 4, 5, 6, 7, 8, 9];
  const cols = [0, 1, 2, 3, 4];
  return (
    <div style={{ position: 'absolute', left: 0, top: 0, width: 1277, height: 1687, background: '#fff', fontFamily: FONT, color: '#111' }}>
      <style>{'.recharts-surface { overflow: visible; }'}</style>
      {PANELS.map((p, i) => (
        <Panel key={p.name} p={p} row={Math.floor(i / 5)} col={i % 5} />
      ))}
      {rows.map((r) => (
        <div
          key={'yl' + r}
          style={{
            position: 'absolute',
            left: 16 - 11,
            top: ROW0 + r * ROWSTEP + PH / 2 - 85,
            width: 22,
            height: 170,
            lineHeight: '22px',
            textAlign: 'center',
            writingMode: 'vertical-rl',
            transform: 'rotate(180deg)',
            fontSize: 18,
            whiteSpace: 'nowrap',
          }}
        >
          optical depth (10<sup style={{ fontSize: '0.7em', lineHeight: 0 }}>{'\u22123'}</sup>)
        </div>
      ))}
      {cols.map((c) => (
        <div
          key={'xl' + c}
          style={{
            position: 'absolute',
            left: COL0 + c * COLSTEP + PW / 2 - 100,
            top: 1666,
            width: 200,
            lineHeight: '20px',
            textAlign: 'center',
            fontSize: 17.5,
            whiteSpace: 'nowrap',
          }}
        >
          Frequency (MHz)
        </div>
      ))}
    </div>
  );
}
